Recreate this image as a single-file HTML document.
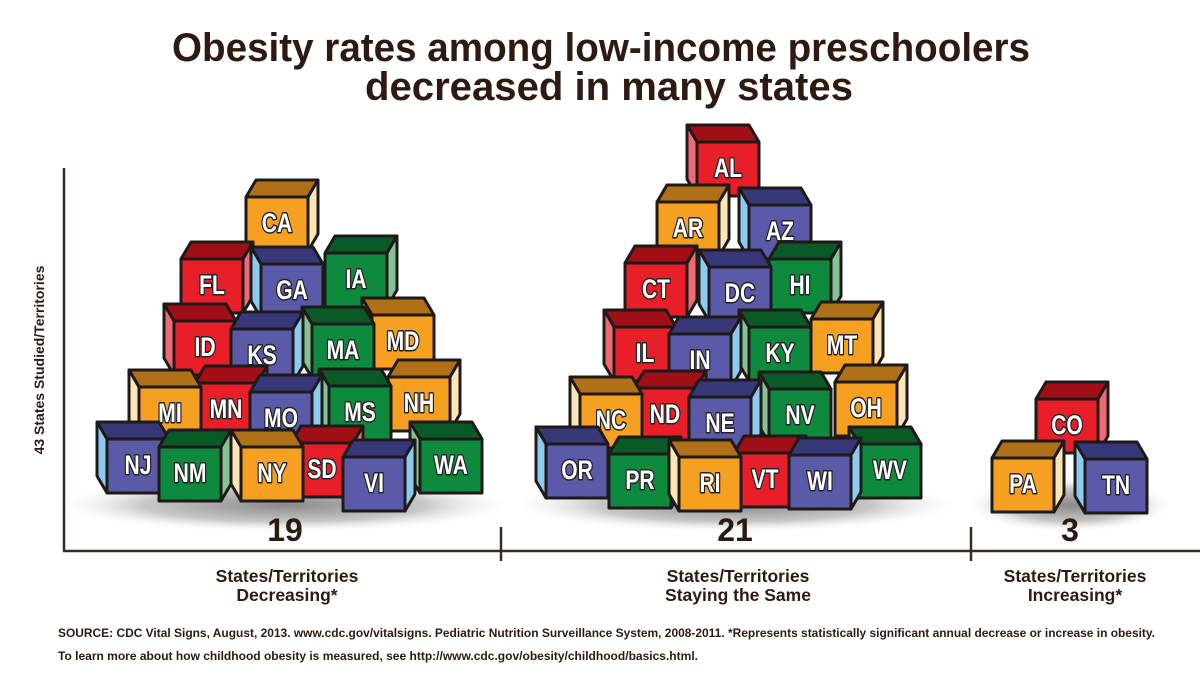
<!DOCTYPE html>
<html><head><meta charset="utf-8"><style>
body{margin:0;background:#fff;width:1200px;height:680px;overflow:hidden}
svg{display:block}
</style></head><body>
<svg id="chart" width="1200" height="680" viewBox="0 0 1200 680" xmlns="http://www.w3.org/2000/svg">
<defs>
<radialGradient id="shad" cx="50%" cy="50%" r="50%"><stop offset="0%" stop-color="#8a8a8a"/><stop offset="60%" stop-color="#c8c8c8"/><stop offset="100%" stop-color="#fff" stop-opacity="0"/></radialGradient>
</defs>
<g font-family="'Liberation Sans',sans-serif" fill="#2e1a10" font-weight="bold">
<text x="601" y="61" font-size="40" text-anchor="middle" textLength="858" lengthAdjust="spacingAndGlyphs">Obesity rates among low-income preschoolers</text>
<text x="609" y="100" font-size="40" text-anchor="middle" textLength="488" lengthAdjust="spacingAndGlyphs">decreased in many states</text>
</g>
<g id="shadows"></g>
<g id="blocks"></g>
<g id="axes" stroke="#3a2a20" stroke-width="2.5" fill="none">
<line x1="64" y1="168" x2="64" y2="551"/>
<line x1="63" y1="551" x2="1200" y2="551"/>
<line x1="501" y1="527" x2="501" y2="561"/>
<line x1="971" y1="527" x2="971" y2="561"/>
</g>
<text transform="translate(44,360) rotate(-90)" font-family="'Liberation Sans',sans-serif" font-weight="bold" font-size="14" fill="#2e1a10" text-anchor="middle">43 States Studied/Territories</text>
<g id="labels" font-family="'Liberation Sans',sans-serif" font-weight="bold" fill="#2e1a10" text-anchor="middle"></g>
<g font-family="'Liberation Sans',sans-serif" font-size="12" fill="#2e1a10" font-weight="bold">
<text x="58" y="637" textLength="1097" lengthAdjust="spacingAndGlyphs">SOURCE: CDC Vital Signs, August, 2013. www.cdc.gov/vitalsigns. Pediatric Nutrition Surveillance System, 2008-2011. *Represents statistically significant annual decrease or increase in obesity.</text>
<text x="58" y="660" textLength="640" lengthAdjust="spacingAndGlyphs">To learn more about how childhood obesity is measured, see http://www.cdc.gov/obesity/childhood/basics.html.</text>
</g>
</svg>
<script>
const categories = ["States/Territories|Decreasing*", "States/Territories|Staying the Same", "States/Territories|Increasing*"];
const counts = [19, 21, 3];
const decreasingStates = ["CA","FL","GA","IA","ID","KS","MA","MD","MI","MN","MO","MS","NH","NJ","NM","NY","SD","VI","WA"];
const sameStates = ["AL","AR","AZ","CT","DC","HI","IL","IN","KY","MT","NC","ND","NE","NV","OH","OR","PR","RI","VT","WI","WV"];
const increasingStates = ["CO","PA","TN"];

// layout (not data): label centre, colour, side direction
const layout = {
CA:[277,220,'o','r'],FL:[212,282,'r','r'],GA:[292,287,'b','l'],IA:[356,276,'g','r'],
ID:[205,344,'r','l'],KS:[262,352,'b','r'],MA:[343,347,'g','l'],MD:[403,338,'o','l'],
MI:[170,410,'o','l'],MN:[226,406,'r','r'],MO:[281,415,'b','r'],MS:[360,409,'g','l'],NH:[419,400,'o','r'],
NJ:[138,462,'b','l'],NM:[190,470,'g','r'],NY:[272,470,'o','l'],SD:[322,466,'r','r'],VI:[374,480,'b','r'],WA:[451,462,'g','l'],
AL:[728,165,'r','l'],AR:[688,225,'o','r'],AZ:[780,228,'b','l'],CT:[656,286,'r','r'],DC:[740,290,'b','l'],HI:[800,282,'g','r'],
IL:[645,350,'r','l'],IN:[700,357,'b','r'],KY:[780,350,'g','l'],MT:[842,342,'o','r'],
NC:[611,417,'o','l'],ND:[665,411,'r','r'],NE:[720,420,'b','r'],NV:[800,412,'g','l'],OH:[866,405,'o','r'],
OR:[577,467,'b','l'],PR:[640,477,'g','r'],RI:[710,480,'o','l'],VT:[765,476,'r','r'],WI:[820,478,'b','r'],WV:[890,467,'g','l'],
CO:[1067,422,'r','r'],PA:[1023,481,'o','r'],TN:[1116,482,'b','l']};
const pal = {o:['#f5a020','#b07018','#fde6b5'], r:['#e81e28','#a00e16','#f06a74'], b:['#5a5aa8','#383878','#8ccaf0'], g:['#0e8a3e','#0a5a28','#86c294']};
const groupCentre = [285, 735, 1070];
const shadowW = [430, 420, 170];

const NS = "http://www.w3.org/2000/svg";
function mk(tag, attrs, parent){const e=document.createElementNS(NS,tag);for(const k in attrs)e.setAttribute(k,attrs[k]);parent.appendChild(e);return e;}
const blocksG = document.getElementById('blocks');
const shadG = document.getElementById('shadows');
const labG = document.getElementById('labels');

[decreasingStates, sameStates, increasingStates].forEach((states, gi) => {
  const sh = mk('ellipse',{cx:groupCentre[gi],cy:505,rx:shadowW[gi]/2+20,ry:28,fill:'url(#shad)'},shadG);
  
  
  const sorted = states.slice().sort((a,b)=>layout[a][1]-layout[b][1]);
  sorted.forEach(st => {
    const [cx,cy,c,side] = layout[st];
    const w=62,h=54,dy=17,dx= side==='r'?10:-10;
    const x0=cx-w/2,y0=cy-h/2+4;
    const g = mk('g',{stroke:'#1e1a1a','stroke-width':3,'stroke-linejoin':'round'},blocksG);
    
    
    const sx = side==='r'? x0+w : x0;
    mk('polygon',{points:`${x0},${y0} ${x0+w},${y0} ${x0+w+dx},${y0-dy} ${x0+dx},${y0-dy}`,fill:pal[c][1]},g);
    mk('polygon',{points:`${sx},${y0} ${sx+dx},${y0-dy} ${sx+dx},${y0+h-dy} ${sx},${y0+h}`,fill:pal[c][2]},g);
    mk('rect',{x:x0,y:y0,width:w,height:h,fill:pal[c][0]},g);
    const t = mk('text',{x:0,y:0,transform:`translate(${cx},${cy+12}) scale(0.78,1)`,'text-anchor':'middle','font-family':"'Liberation Sans',sans-serif",'font-weight':'bold','font-size':27,fill:'#fff',stroke:'#222','stroke-width':3,'paint-order':'stroke'},g);
    t.textContent = st;
  });
  const n = mk('text',{x:groupCentre[gi],y:541,'font-size':32},labG);
  
  
  n.textContent = counts[gi];
  const parts = categories[gi].split('|');
  const catX = [287, 738, 1075][gi];
  parts.forEach((p,i)=>{
    const t = mk('text',{x:catX,y:582+i*19,'font-size':17.5},labG);
    
    
    t.textContent = p;
  });
});
</script>
</body></html>
